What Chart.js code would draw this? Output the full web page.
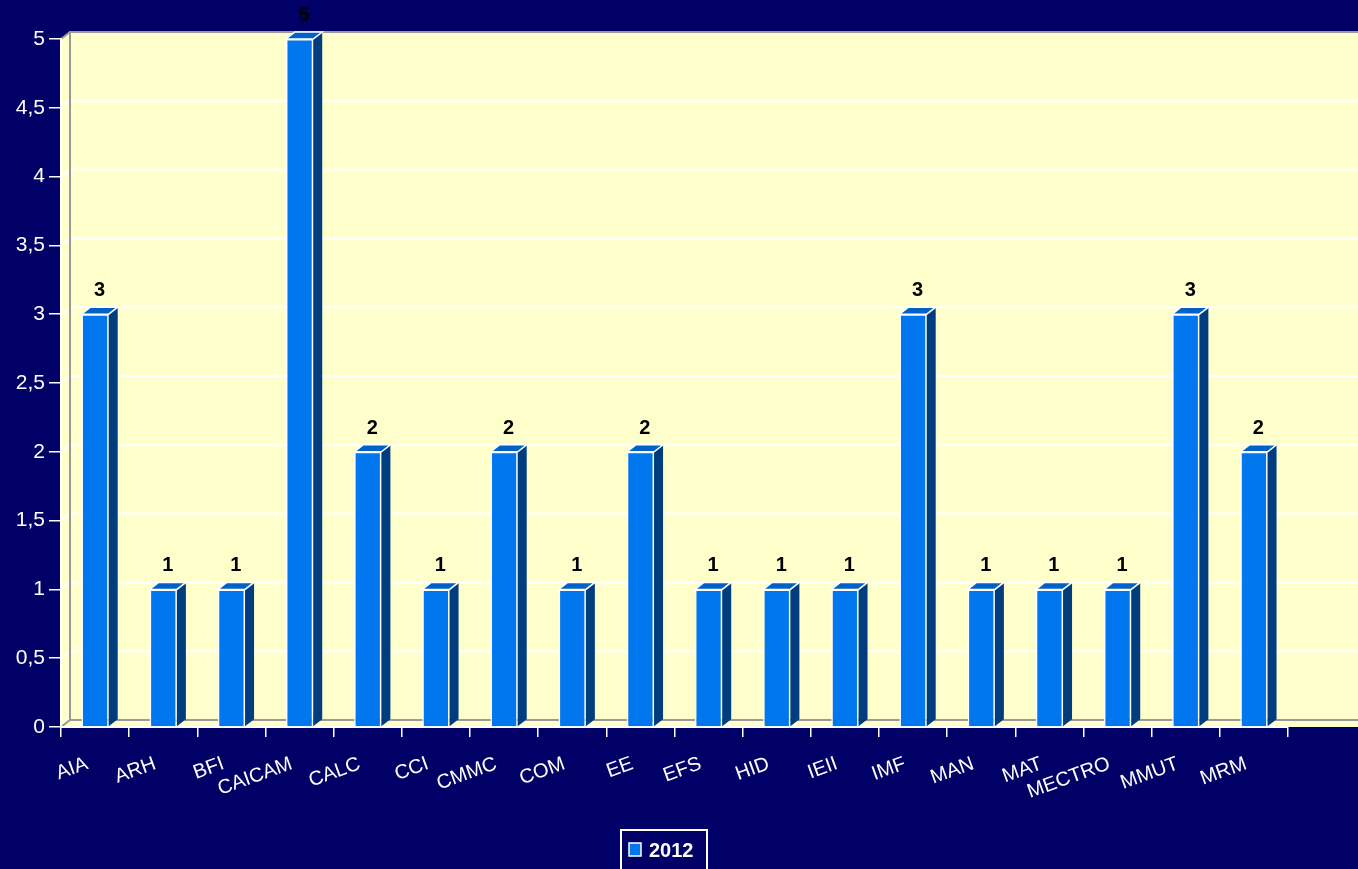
<!DOCTYPE html>
<html>
<head>
<meta charset="utf-8">
<script src="https://cdn.jsdelivr.net/npm/chart.js@4"></script>
<style>
  body { margin: 0; background: #000066; }
  canvas { display: block; }
</style>
</head>
<body>
<canvas id="chart" width="1358" height="869"></canvas>
<script>
const categories = ['AIA', 'ARH', 'BFI', 'CAICAM', 'CALC', 'CCI', 'CMMC', 'COM', 'EE', 'EFS',
  'HID', 'IEII', 'IMF', 'MAN', 'MAT', 'MECTRO', 'MMUT', 'MRM'];
const values2012 = [3, 1, 1, 5, 2, 1, 2, 1, 2, 1, 1, 1, 3, 1, 1, 1, 3, 2];
const seriesLabel = '2012';

const bg_color = '#000066';
const wall_color = '#ffffcc';
const edge_color = '#999999';
const front_color = '#0077ee';
const side_color = '#003d7f';
const top_color = '#0062c6';
const font_family = "'Liberation Sans', Arial, sans-serif";

// depth of the fake 3d look
const dx = 9;
const dy = 7;

// back wall, left wall and floor drawn behind everything
const wallPlugin = {
    id: 'wall',
    beforeDraw(chart) {
        const ctx = chart.ctx;
        const a = chart.chartArea;
        const yScale = chart.scales.y;
        ctx.save();
        ctx.fillStyle = bg_color;
        ctx.fillRect(0, 0, chart.width, chart.height);

        const right = chart.width;
        ctx.fillStyle = wall_color;
        ctx.beginPath();
        ctx.moveTo(a.left, a.top);
        ctx.lineTo(a.left + dx, a.top - dy);
        ctx.lineTo(right, a.top - dy);
        ctx.lineTo(right, a.bottom);
        ctx.lineTo(a.left, a.bottom);
        ctx.closePath();
        ctx.fill();

        // grid lines on the back wall
        ctx.strokeStyle = '#ffffff';
        ctx.lineWidth = 2;
        yScale.ticks.forEach(t => {
            if (t.value === 0 || t.value === yScale.max) return;
            const y = yScale.getPixelForValue(t.value);
            ctx.beginPath();
            ctx.moveTo(a.left, y);
            ctx.lineTo(a.left + dx, y - dy);
            ctx.lineTo(right, y - dy);
            ctx.stroke();
        });

        // wall edges
        ctx.strokeStyle = edge_color;
        ctx.lineWidth = 2;
        ctx.beginPath();
        ctx.moveTo(right, a.top - dy);
        ctx.lineTo(a.left + dx, a.top - dy);
        ctx.lineTo(a.left + dx, a.bottom - dy);
        ctx.lineTo(right, a.bottom - dy);
        ctx.moveTo(a.left, a.top);
        ctx.lineTo(a.left + dx, a.top - dy);
        ctx.moveTo(a.left, a.bottom);
        ctx.lineTo(a.left + dx, a.bottom - dy);
        ctx.stroke();
        ctx.restore();
    }
};

// side and top faces of the bars plus the value labels
const barPlugin = {
    id: 'bar3d',
    afterDatasetsDraw(chart) {
        const ctx = chart.ctx;
        ctx.save();
        chart.data.datasets.forEach((ds, di) => {
            const meta = chart.getDatasetMeta(di);
            meta.data.forEach((bar, i) => {
                const w = bar.width;
                const left = bar.x - w / 2;
                const right = bar.x + w / 2;
                const top = bar.y;
                const base = bar.base;

                ctx.fillStyle = side_color;
                ctx.beginPath();
                ctx.moveTo(right, top);
                ctx.lineTo(right + dx, top - dy);
                ctx.lineTo(right + dx, base - dy);
                ctx.lineTo(right, base);
                ctx.closePath();
                ctx.fill();

                ctx.fillStyle = top_color;
                ctx.strokeStyle = '#ffffff';
                ctx.lineWidth = 1.5;
                ctx.beginPath();
                ctx.moveTo(left, top);
                ctx.lineTo(left + dx, top - dy);
                ctx.lineTo(right + dx, top - dy);
                ctx.lineTo(right, top);
                ctx.closePath();
                ctx.fill();
                ctx.stroke();

                ctx.fillStyle = '#000000';
                ctx.font = 'bold 20px ' + font_family;
                ctx.textAlign = 'center';
                ctx.textBaseline = 'alphabetic';
                ctx.fillText(String(ds.data[i]), bar.x + dx / 2, top - 18);
            });
        });
        ctx.restore();
    }
};

// boxed legend at the bottom
const legendPlugin = {
    id: 'boxLegend',
    afterDraw(chart) {
        const ctx = chart.ctx;
        const ds = chart.data.datasets[0];
        ctx.save();
        ctx.strokeStyle = '#ffffff';
        ctx.lineWidth = 2;
        ctx.strokeRect(621, 830, 86, 46);
        ctx.fillStyle = ds.backgroundColor;
        ctx.fillRect(629, 843, 12, 13);
        ctx.lineWidth = 1.5;
        ctx.strokeRect(629, 843, 12, 13);
        ctx.fillStyle = '#ffffff';
        ctx.font = 'bold 20px ' + font_family;
        ctx.textAlign = 'left';
        ctx.textBaseline = 'alphabetic';
        ctx.fillText(ds.label, 649, 857);
        ctx.restore();
    }
};

new Chart(document.getElementById('chart'), {
    type: 'bar',
    data: {
        labels: categories,
        datasets: [{
            label: seriesLabel,
            data: values2012,
            backgroundColor: front_color,
            borderColor: '#ffffff',
            borderWidth: 1.5,
            categoryPercentage: 1,
            barPercentage: 0.4
        }]
    },
    options: {
        responsive: false,
        animation: false,
        layout: {
            padding: { top: 39, right: 70, left: 0, bottom: 0 }
        },
        plugins: {
            legend: { display: false },
            tooltip: { enabled: false }
        },
        scales: {
            x: {
                afterFit: s => { s.height = 142; },
                grid: {
                    offset: true,
                    drawOnChartArea: false,
                    drawTicks: true,
                    tickLength: 10,
                    color: '#ffffff',
                    lineWidth: 1.5
                },
                border: { color: '#ffffff', width: 2 },
                ticks: {
                    color: '#ffffff',
                    font: { family: font_family, size: 20 },
                    minRotation: 20,
                    maxRotation: 20,
                    autoSkip: false,
                    labelOffset: -8,
                    padding: 15
                }
            },
            y: {
                min: 0,
                max: 5,
                afterFit: s => { s.width = 61; },
                grid: {
                    drawOnChartArea: false,
                    drawTicks: true,
                    tickLength: 12,
                    color: '#ffffff',
                    lineWidth: 1.5
                },
                border: { color: '#ffffff', width: 2 },
                ticks: {
                    stepSize: 0.5,
                    color: '#ffffff',
                    padding: 4,
                    font: { family: font_family, size: 21 },
                    callback: v => String(v).replace('.', ',')
                }
            }
        }
    },
    plugins: [wallPlugin, barPlugin, legendPlugin]
});
</script>
</body>
</html>
